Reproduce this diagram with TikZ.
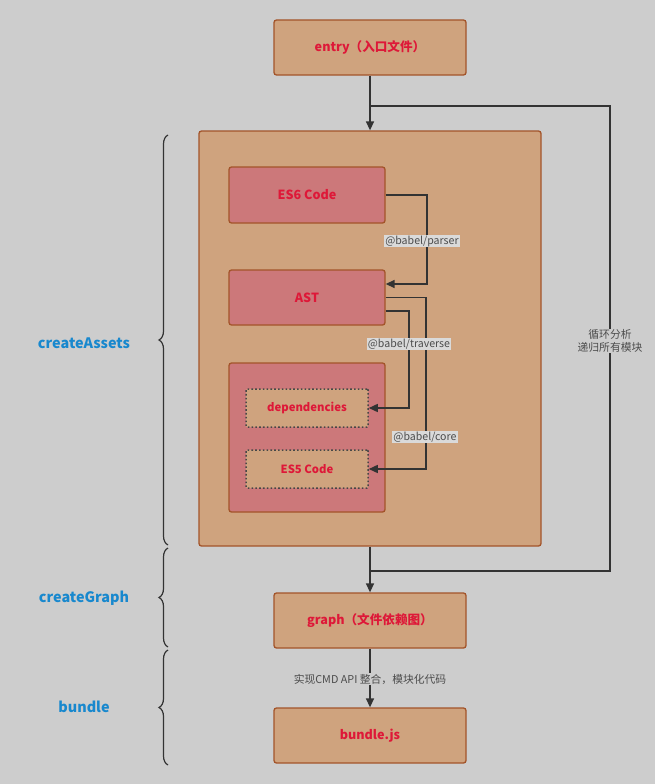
\documentclass[tikz,border=0pt]{standalone}
\usepackage{fontspec}
\setmainfont{Noto Sans CJK SC}
\usetikzlibrary{arrows.meta,decorations.pathreplacing,calc}
\definecolor{bgc}{RGB}{205,205,205}
\definecolor{tan}{RGB}{207,163,126}
\definecolor{brd}{RGB}{163,84,42}
\definecolor{pnk}{RGB}{204,120,122}
\definecolor{redt}{RGB}{222,24,56}
\definecolor{bluet}{RGB}{24,136,206}
\definecolor{lnc}{RGB}{51,51,51}
\definecolor{lblbg}{RGB}{218,218,218}
\begin{document}
\begin{tikzpicture}[x=1pt,y=-1pt,
  box/.style={draw=brd,line width=1.3pt,rounded corners=2.5pt,fill=tan,inner sep=0pt,
    font=\bfseries\fontsize{12.6}{15}\selectfont,text=redt},
  pbox/.style={box,fill=pnk},
  dbox/.style={draw=lnc!90,line width=1.5pt,dash pattern=on 1.6pt off 2.2pt,rounded corners=1pt,fill=tan,inner sep=0pt,
    font=\bfseries\fontsize{11.3}{13}\selectfont,text=redt},
  conn/.style={draw=lnc,line width=1.4pt},
  arr/.style={conn,-{Triangle[length=9pt,width=8pt]}},
  lbl/.style={fill=lblbg,inner sep=1pt,font=\fontsize{10.6}{12}\selectfont,text=black!70},
  glbl/.style={fill=bgc,inner sep=1pt,font=\fontsize{10.8}{13}\selectfont,text=black!70,align=center},
  stage/.style={font=\bfseries\fontsize{14.4}{17}\selectfont,text=bluet},
  brc/.style={draw=lnc,line width=1.2pt,decorate,decoration={brace,amplitude=9pt}}]
\fill[bgc] (0,0) rectangle (655,784);
\useasboundingbox (0,0) rectangle (655,784);

% boxes
\node[box,minimum width=192pt,minimum height=55pt] (entry) at (370,47.5) {entry（入口文件）};
\node[box,minimum width=342pt,minimum height=415pt] (big) at (370,338.5) {};
\node[pbox,minimum width=156pt,minimum height=56pt] (es6) at (307,195) {ES6 Code};
\node[pbox,minimum width=156pt,minimum height=55pt] (ast) at (307,297.5) {AST};
\node[pbox,minimum width=156pt,minimum height=149pt] (inner) at (307,437.5) {};
\node[dbox,minimum width=122pt,minimum height=38pt] (deps) at (307,408) {dependencies};
\node[dbox,minimum width=122pt,minimum height=38pt] (es5) at (307,469) {ES5 Code};
\node[box,minimum width=192pt,minimum height=55pt] (graph) at (370,620.5) {graph（文件依赖图）};
\node[box,minimum width=192pt,minimum height=55pt] (bundle) at (370,735.5) {bundle.js};

% main flow
\coordinate (j1) at (370,106);
\coordinate (j2) at (370,571);
\coordinate (c1) at (610,106);
\coordinate (c2) at (610,571);
\draw[arr] (entry.south) -- (big.north);
\draw[arr] (big.south) -- (graph.north);
\draw[conn] (j1) -- (c1) -- (c2) -- (j2);
\node[glbl] (loop) at (610,341) {循环分析\\递归所有模块};
\draw[arr] (graph.south) -- (bundle.north);
\node[glbl,fill=bgc] (cmd) at (370,679) {实现CMD API 整合，模块化代码};

% babel connectors
\coordinate (p1) at (427,195);
\coordinate (p2) at (427,284);
\draw[arr] (es6.east) -- (p1) -- (p2) -- ([yshift=13.5pt]ast.east);
\node[lbl] (lp) at (422,241) {@babel/parser};
\coordinate (t1) at (409,311);
\coordinate (t2) at (409,408);
\draw[arr] ([yshift=-13.5pt]ast.east) -- (t1) -- (t2) -- (deps.east);
\coordinate (k1) at (426,297.5);
\coordinate (k2) at (426,469);
\draw[arr] (ast.east) -- (k1) -- (k2) -- (es5.east);
\node[lbl] (lt) at (409,344) {@babel/traverse};
\node[lbl] (lc) at (425,437) {@babel/core};

% braces
\coordinate (b1t) at (168,135);
\coordinate (b1b) at (168,545);
\coordinate (b2t) at (168,548);
\coordinate (b2b) at (168,647);
\coordinate (b3t) at (168,650);
\coordinate (b3b) at (168,765);
\draw[brc] (b1b) -- (b1t);
\draw[brc] (b2b) -- (b2t);
\draw[brc] (b3b) -- (b3t);
\node[stage] (sa) at (84,343) {createAssets};
\node[stage] (sg) at (84,598) {createGraph};
\node[stage] (sb) at (84,707) {bundle};
\end{tikzpicture}
\end{document}
